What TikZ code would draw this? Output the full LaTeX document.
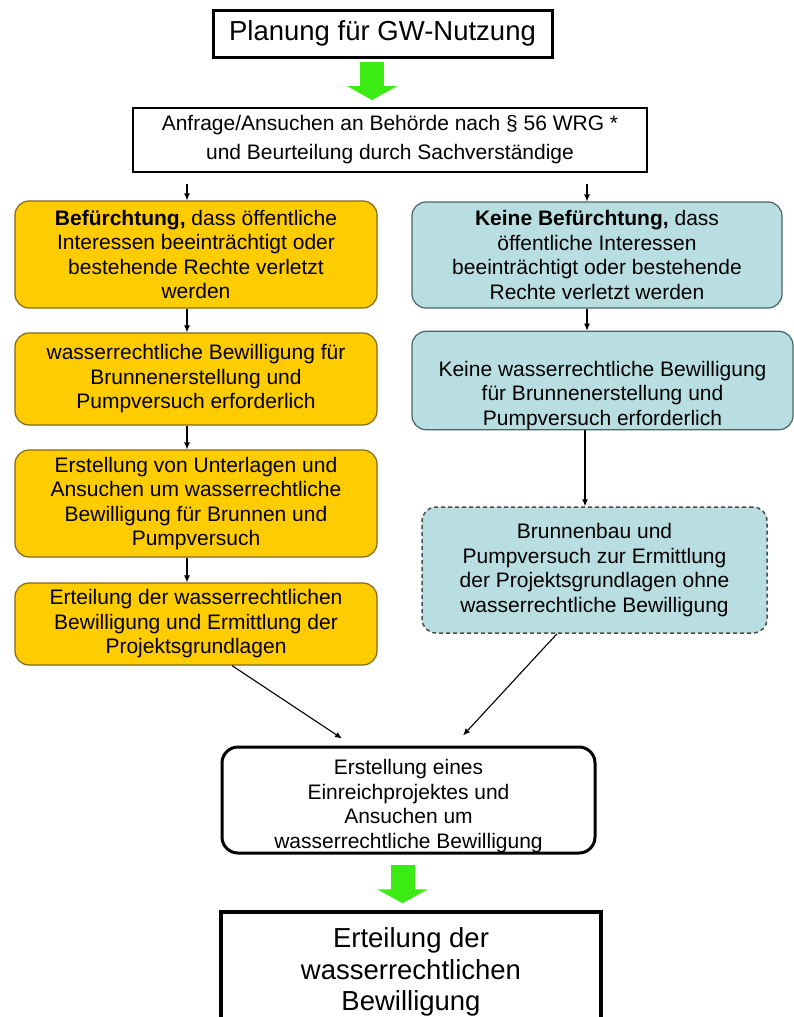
\documentclass[tikz,border=0pt]{standalone}
\usepackage{fontspec}
\setmainfont{Liberation Sans}
\usetikzlibrary{arrows.meta}

\definecolor{boxorange}{RGB}{255,204,0}
\definecolor{orangeline}{RGB}{130,105,20}
\definecolor{boxblue}{RGB}{185,222,226}
\definecolor{blueline}{RGB}{70,100,100}
\definecolor{arrowgreen}{RGB}{60,235,20}

\begin{document}
\begin{tikzpicture}[x=1pt,y=-1pt,
    plainbox/.style={draw,inner sep=0pt,align=center,font=\fontsize{21}{24.5}\selectfont},
    orangebox/.style={plainbox,rounded corners=14pt,fill=boxorange,draw=orangeline,line width=1.2pt,minimum width=362pt},
    bluebox/.style={plainbox,rounded corners=14pt,fill=boxblue,draw=blueline,line width=1.2pt},
    flow/.style={-{Latex[length=7pt,width=6pt]},line width=1.1pt},
    greenflow/.style={line width=24pt,arrowgreen,-{Triangle[width=50pt,length=14pt]}}]
      \useasboundingbox (0,0) rectangle (794,1017);
      %this draws the boxes
      \node [style={plainbox,line width=3pt,minimum width=339pt,minimum height=47pt,font=\fontsize{27.5}{31.7}\selectfont}] (plan) at (382.5,33.5) {Planung für GW-Nutzung};
      \node [style={plainbox,line width=2pt,minimum width=514pt,minimum height=64pt,font=\fontsize{21}{29}\selectfont}] (anfrage) at (390,140) {Anfrage/Ansuchen an Behörde nach § 56 WRG *\\und Beurteilung durch Sachverständige};
      \node [style={orangebox,minimum height=107pt}] (o1) at (196,254.5) {\textbf{Befürchtung,} dass öffentliche\\Interessen beeinträchtigt oder\\bestehende Rechte verletzt\\werden};
      \node [style={orangebox,minimum height=92pt}] (o2) at (196,379) {wasserrechtliche Bewilligung für\\Brunnenerstellung und\\Pumpversuch erforderlich};
      \node [style={orangebox,minimum height=107pt}] (o3) at (196,503.5) {Erstellung von Unterlagen und\\Ansuchen um wasserrechtliche\\Bewilligung für Brunnen und\\Pumpversuch};
      \node [style={orangebox,minimum height=82pt}] (o4) at (196,624) {Erteilung der wasserrechtlichen\\Bewilligung und Ermittlung der\\Projektsgrundlagen};
      \node [style={bluebox,minimum width=370pt,minimum height=106pt}] (b1) at (597,255) {\textbf{Keine Befürchtung,} dass\\öffentliche Interessen\\beeinträchtigt oder bestehende\\Rechte verletzt werden};
      \node [style={bluebox,minimum width=381pt,minimum height=95pt}] (b2) at (602.5,380.5) {\rule{0pt}{45pt}Keine wasserrechtliche Bewilligung\\für Brunnenerstellung und\\Pumpversuch erforderlich};
      \node [style={bluebox,draw=black!70,dash pattern=on 4pt off 3pt,line width=1.5pt,minimum width=345pt,minimum height=126pt}] (d) at (594.5,570) {Brunnenbau und\\Pumpversuch zur Ermittlung\\der Projektsgrundlagen ohne\\wasserrechtliche Bewilligung};
      \node [style={plainbox,rounded corners=16pt,line width=3pt,minimum width=373pt,minimum height=106pt}] (e) at (408.5,800) {\rule{0pt}{27pt}Erstellung eines\\Einreichprojektes und\\Ansuchen um\\wasserrechtliche Bewilligung};
      \node [style={plainbox,line width=3.5pt,minimum width=380pt,minimum height=120pt,font=\fontsize{27.5}{31.7}\selectfont}] (final) at (411,972) {Erteilung der\\wasserrechtlichen\\Bewilligung};
      \coordinate (sl) at (187,184);
      \coordinate (sr) at (587,184);
      %this draws the arrows
      \draw[flow] (sl) -- (sl |- o1.north);
      \draw[flow] (sr) -- (sr |- b1.north);
      \foreach \a/\b in {o1/o2,o2/o3,o3/o4}
        \draw[flow] ([xshift=-9pt]\a.south) -- ([xshift=-9pt]\b.north);
      \draw[flow] ([xshift=-10pt]b1.south) -- ([xshift=-15.5pt]b2.north);
      \draw[flow] ([xshift=-17.5pt]b2.south) -- ([xshift=-9.5pt]d.north);
      \draw[flow] ([xshift=36pt]o4.south) -- ([xshift=-66.5pt,yshift=7pt]e.north);
      \draw[flow] ([xshift=-37.5pt]d.south) -- ([xshift=54.5pt,yshift=10pt]e.north);
      \draw[greenflow,shorten <=3pt,shorten >=7pt] ([xshift=-10.5pt]plan.south) -- ([xshift=-18pt]anfrage.north);
      \draw[greenflow,shorten <=10pt,shorten >=7pt] ([xshift=-6pt]e.south) -- ([xshift=-8.5pt]final.north);
    \end{tikzpicture}
\end{document}
